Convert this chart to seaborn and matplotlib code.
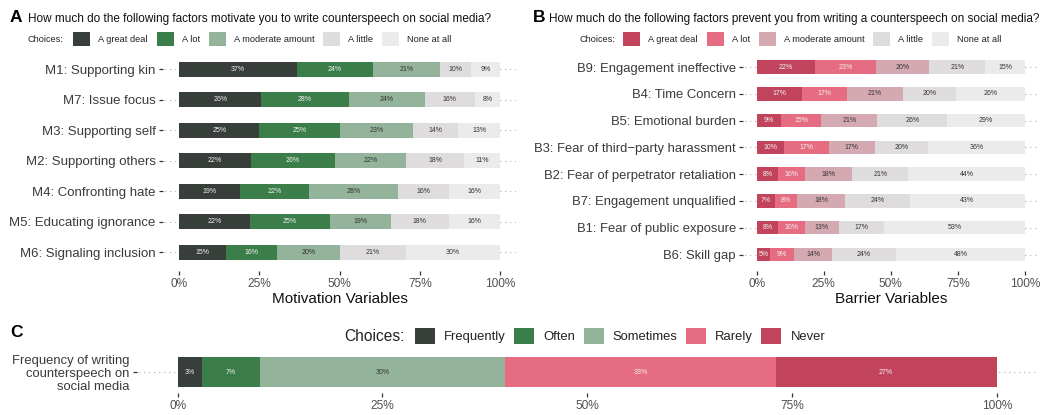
import numpy as np
import pandas as pd
import matplotlib
matplotlib.use("Agg")
import matplotlib.pyplot as plt
from matplotlib.patches import Patch
import seaborn as sns

# ---------------- data ----------------
choices_ab = ["A great deal", "A lot", "A moderate amount", "A little", "None at all"]

motivation_items = ["M1: Supporting kin", "M7: Issue focus", "M3: Supporting self",
                    "M2: Supporting others", "M4: Confronting hate",
                    "M5: Educating ignorance", "M6: Signaling inclusion"]
motivation_values = [
    [37, 24, 21, 10, 9],
    [26, 28, 24, 16, 8],
    [25, 25, 23, 14, 13],
    [22, 26, 22, 18, 11],
    [19, 22, 28, 16, 16],
    [22, 25, 19, 18, 16],
    [15, 16, 20, 21, 30],
]

barrier_items = ["B9: Engagement ineffective", "B4: Time Concern", "B5: Emotional burden",
                 "B3: Fear of third\u2212party harassment", "B2: Fear of perpetrator retaliation",
                 "B7: Engagement unqualified", "B1: Fear of public exposure", "B6: Skill gap"]
barrier_values = [
    [22, 23, 20, 21, 15],
    [17, 17, 21, 20, 26],
    [9, 15, 21, 26, 29],
    [10, 17, 17, 20, 36],
    [8, 10, 18, 21, 44],
    [7, 8, 18, 24, 43],
    [8, 10, 13, 17, 53],
    [5, 9, 14, 24, 48],
]

choices_freq = ["Frequently", "Often", "Sometimes", "Rarely", "Never"]
freq_items = ["Frequency of writing\ncounterspeech on\nsocial media"]
freq_values = [[3, 7, 30, 33, 27]]

title_a = "How much do the following factors motivate you to write counterspeech on social media?"
title_b = "How much do the following factors prevent you from writing a counterspeech on social media?"
xlabel_a = "Motivation Variables"
xlabel_b = "Barrier Variables"
tick_vals = [0, 0.25, 0.5, 0.75, 1.0]
tick_labels = ["0%", "25%", "50%", "75%", "100%"]

# ---------------- style ----------------
green_cols = ["#383e3a", "#3c7e4a", "#93b39a", "#dfdcdd", "#ebebeb"]
red_cols = ["#c2445c", "#e66c81", "#d5a9b1", "#dfdcdd", "#ebebeb"]
freq_cols = ["#383e3a", "#3c7e4a", "#93b39a", "#e66c81", "#c2445c"]
txt_ab = ["#f2f2f2", "#f2f2f2", "#333333", "#333333", "#333333"]
txt_freq = ["#f2f2f2", "#f2f2f2", "#333333", "#f2f2f2", "#f2f2f2"]

sns.set_theme(style="white")
plt.rcParams["font.family"] = ["Liberation Sans", "DejaVu Sans"]

W, H = 1042, 415
fig = plt.figure(figsize=(W / 100, H / 100), dpi=100)


def px_axes(left, top, right, bottom):
    return fig.add_axes([left / W, 1 - bottom / H, (right - left) / W, (bottom - top) / H])


def stacked(ax, items, values, cols, tcols, xlim, ylim, label_size, ytick_size, xtick_size):
    rows = []
    for i, (item, vals) in enumerate(zip(items, values)):
        vals = np.array(vals, dtype=float)
        share = vals / vals.sum()
        ends = np.cumsum(share)
        starts = ends - share
        for k in range(len(vals)):
            rows.append(dict(item=item, pos=i, k=k, value=int(vals[k]),
                             start=starts[k], end=ends[k]))
    df = pd.DataFrame(rows)
    for k in reversed(range(len(cols))):
        sub = df[df["k"] == k]
        sns.barplot(data=sub, x="end", y="item", order=items, orient="h", color=cols[k],
                    saturation=1, width=0.5, linewidth=0, ax=ax, errorbar=None)
    for _, r in df.iterrows():
        ax.text((r["start"] + r["end"]) / 2, r["pos"], f"{r['value']}%",
                ha="center", va="center", fontsize=label_size, color=tcols[r["k"]], zorder=5)
    ax.set_xlim(*xlim)
    ax.set_ylim(*ylim)
    ax.set_xticks(tick_vals)
    ax.set_xticklabels(tick_labels)
    for s in ax.spines.values():
        s.set_visible(False)
    ax.set_axisbelow(True)
    ax.grid(axis="y", linestyle=(3, (1, 3.5)), color="#aaaaaa", linewidth=0.8)
    ax.grid(axis="x", visible=False)
    ax.tick_params(axis="both", which="major", length=3.2, width=0.9, color="#333333",
                   pad=2.2, labelcolor="#505050", bottom=True, left=True)
    ax.tick_params(axis="y", labelsize=ytick_size, labelcolor="#3a3a3a")
    ax.tick_params(axis="x", labelsize=xtick_size, pad=1.8)
    ax.set_ylabel("")
    ax.set_xlabel("")
    ax.patch.set_alpha(0)


# Panel A
axA = px_axes(163.3, 51, 516.0, 270.6)
stacked(axA, motivation_items, motivation_values, green_cols, txt_ab,
        (-0.05, 1.05), (len(motivation_items) - 0.4, -0.6), 5, 9.5, 8.6)
axA.set_xlabel(xlabel_a, fontsize=11, color="#111111", labelpad=1.5)

# Panel B
axB = px_axes(743.3, 51, 1038.4, 270.6)
stacked(axB, barrier_items, barrier_values, red_cols, txt_ab,
        (-0.05, 1.05), (len(barrier_items) - 0.4, -0.6), 5, 9.4, 8.6)
axB.set_xlabel(xlabel_b, fontsize=11, color="#111111", labelpad=1.5)

# Panel C
axC = px_axes(136.7, 351, 1037.7, 393)
stacked(axC, freq_items, freq_values, freq_cols, txt_freq,
        (-0.05, 1.05), (0.35, -0.35), 5, 9.4, 8.6)
for t in axC.get_yticklabels():
    t.set_linespacing(1.08)

# Titles
fig.text(10 / W, 1 - 22.5 / H, "A", fontsize=12.5, fontweight="bold", va="baseline", color="black")
fig.text(28 / W, 1 - 22 / H, title_a, fontsize=8.45, va="baseline", color="#111111")
fig.text(533 / W, 1 - 22.5 / H, "B", fontsize=12.5, fontweight="bold", va="baseline", color="black")
fig.text(549 / W, 1 - 22 / H, title_b, fontsize=8.45, va="baseline", color="#111111")
fig.text(10 / W, 1 - 337 / H, "C", fontsize=12.5, fontweight="bold", va="baseline", color="black")


def legend_row(x_title, x_box, y, labels, cols, title_size, fs, box_px, gap1_px, gap2_px):
    fig.text(x_title / W, 1 - y / H, "Choices:", fontsize=title_size, va="center",
             ha="left", color="#222222")
    fpx = fs * 100 / 72
    handles = [Patch(facecolor=c, edgecolor="none") for c in cols]
    fig.legend(handles, labels, loc="center left", bbox_to_anchor=(x_box / W, 1 - y / H),
               ncol=len(labels), frameon=False, fontsize=fs, borderpad=0, borderaxespad=0,
               handlelength=box_px / fpx, handleheight=box_px / fpx,
               handletextpad=gap1_px / fpx, columnspacing=gap2_px / fpx, labelcolor="#222222")


legend_row(28, 73, 39, choices_ab, green_cols, 6.6, 6.7, 17, 8, 9)
legend_row(579, 623, 39, choices_ab, red_cols, 6.6, 6.7, 17, 8, 9)
legend_row(344, 415, 336, choices_freq, freq_cols, 11.2, 9.4, 20, 9, 8.5)

fig.savefig("out.png", dpi=100, facecolor="white")
